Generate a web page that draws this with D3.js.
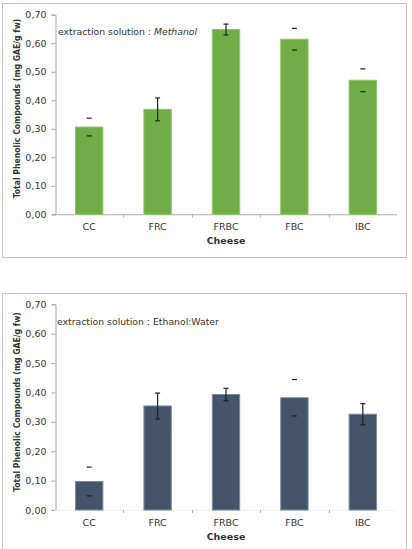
<!DOCTYPE html>
<html>
<head>
<meta charset="utf-8">
<script src="https://cdn.jsdelivr.net/npm/d3@7"></script>
<style>
  body { margin: 0; background: #fff; }
  text { font-family: "DejaVu Sans", Verdana, sans-serif; fill: #333; }
</style>
</head>
<body>
<div id="chart"></div>
<script>
// cheese types on the x axis
const categories = ["CC", "FRC", "FRBC", "FBC", "IBC"];
const yTicks = [0, 0.1, 0.2, 0.3, 0.4, 0.5, 0.6, 0.7];

// methanol extraction
const methanolValues = [0.306, 0.368, 0.648, 0.614, 0.470];
const methanolErr = [0.031, 0.040, 0.019, 0.038, 0.040];

// ethanol:water extraction
const ethanolValues = [0.097, 0.354, 0.393, 0.382, 0.326];
const ethanolErr = [0.049, 0.044, 0.021, 0.062, 0.036];

const W = 412, H = 549;
const svg = d3.select("#chart").append("svg")
    .attr("width", W).attr("height", H);

const fmt = d => d3.format(".2f")(d).replace(".", ",");

function drawChart(cfg) {
    const g = svg.append("g");
    const data = cfg.values.map((v, i) => ({ cat: categories[i], v: v, e: cfg.err[i], stem: cfg.stems[i] }));

    // outer frame
    g.append("rect")
        .attr("x", 2.5).attr("y", cfg.frameTop + 0.5)
        .attr("width", 404).attr("height", cfg.frameH)
        .attr("fill", "none").attr("stroke", "#c4c4c4");

    const x = d3.scaleBand().domain(categories).range([55, 397]).paddingInner(0.6).paddingOuter(0.3);
    const xb = d3.scaleBand().domain(categories).range([55, 397]);
    const y = d3.scaleLinear().domain([0, 0.7]).range([cfg.y0, cfg.y1]);
    const cx = d => x(d.cat) + x.bandwidth() / 2;

    // y axis
    const ya = g.append("g").attr("transform", "translate(55.5,0)")
        .call(d3.axisLeft(y).tickValues(yTicks).tickFormat(fmt).tickSize(4).tickPadding(5));
    ya.selectAll("path, line").attr("stroke", "#a6a6a6");
    ya.selectAll("text").style("font-size", "9.5px").attr("fill", "#404040");

    // x axis line with ticks between categories
    g.append("line")
        .attr("x1", 55).attr("x2", 397)
        .attr("y1", y(0) + 0.5).attr("y2", y(0) + 0.5)
        .attr("stroke", cfg.xAxisColor);
    g.selectAll(".xtick").data(categories.slice(1)).join("line")
        .attr("x1", d => Math.round(xb(d)) + 0.5).attr("x2", d => Math.round(xb(d)) + 0.5)
        .attr("y1", y(0)).attr("y2", y(0) + 3)
        .attr("stroke", "#b0b0b0");

    // bars
    g.selectAll(".bar").data(data).join("rect")
        .attr("x", d => x(d.cat))
        .attr("y", d => y(d.v))
        .attr("width", x.bandwidth())
        .attr("height", d => y(0) - y(d.v))
        .attr("fill", cfg.color)
        .attr("stroke", cfg.edge).attr("stroke-width", 1);

    // error bars (some stems are not visible in the original)
    g.selectAll(".stem").data(data.filter(d => d.stem)).join("line")
        .attr("x1", cx).attr("x2", cx)
        .attr("y1", d => y(d.v + d.e))
        .attr("y2", d => y(d.v - d.e))
        .attr("stroke", "#222").attr("stroke-width", 1.2);
    [1, -1].forEach(s => {
        g.selectAll(".cap" + s).data(data).join("line")
            .attr("x1", d => cx(d) - 2.5)
            .attr("x2", d => cx(d) + 2.5)
            .attr("y1", d => y(d.v + s * d.e))
            .attr("y2", d => y(d.v + s * d.e))
            .attr("stroke", "#222").attr("stroke-width", 1.2);
    });

    // category labels
    g.selectAll(".xl").data(categories).join("text")
        .attr("x", d => x(d) + x.bandwidth() / 2)
        .attr("y", y(0) + 16)
        .attr("text-anchor", "middle")
        .style("font-size", "9.5px")
        .text(d => d);

    g.append("text")
        .attr("x", 226).attr("y", y(0) + 30)
        .attr("text-anchor", "middle")
        .style("font-size", "9.5px").style("font-weight", "bold")
        .text("Cheese");

    // y title
    g.append("text")
        .attr("transform", `translate(20,${cfg.titleMid}) rotate(-90)`)
        .attr("text-anchor", "middle")
        .style("font-family", "'DejaVu Sans Condensed', 'DejaVu Sans', sans-serif")
        .style("font-size", "8.6px").style("font-weight", "bold")
        .text("Total Phenolic Compounds (mg GAE/g fw)");

    // in-plot label
    const t = g.append("text")
        .attr("x", cfg.labelX).attr("y", cfg.labelY)
        .style("font-size", "9.3px");
    t.append("tspan").text("extraction solution : ");
    t.append("tspan").style("font-style", cfg.italic ? "italic" : "normal").text(cfg.solvent);
}

drawChart({
    frameTop: 3, frameH: 254,
    y0: 214.3, y1: 14.7,
    values: methanolValues, err: methanolErr,
    stems: [false, true, true, false, false],
    color: "#70ad47", edge: "#8fc46a",
    xAxisColor: "#b0b0b0",
    titleMid: 108.5,
    labelX: 58, labelY: 35,
    solvent: "Methanol", italic: true
});

drawChart({
    frameTop: 293, frameH: 262,
    y0: 510, y1: 304.3,
    values: ethanolValues, err: ethanolErr,
    stems: [false, true, true, false, true],
    color: "#44546a", edge: "#7d8ba0",
    xAxisColor: "#f2f2f2",
    titleMid: 402,
    labelX: 57, labelY: 324.5,
    solvent: "Ethanol:Water", italic: false
});
</script>
</body>
</html>
